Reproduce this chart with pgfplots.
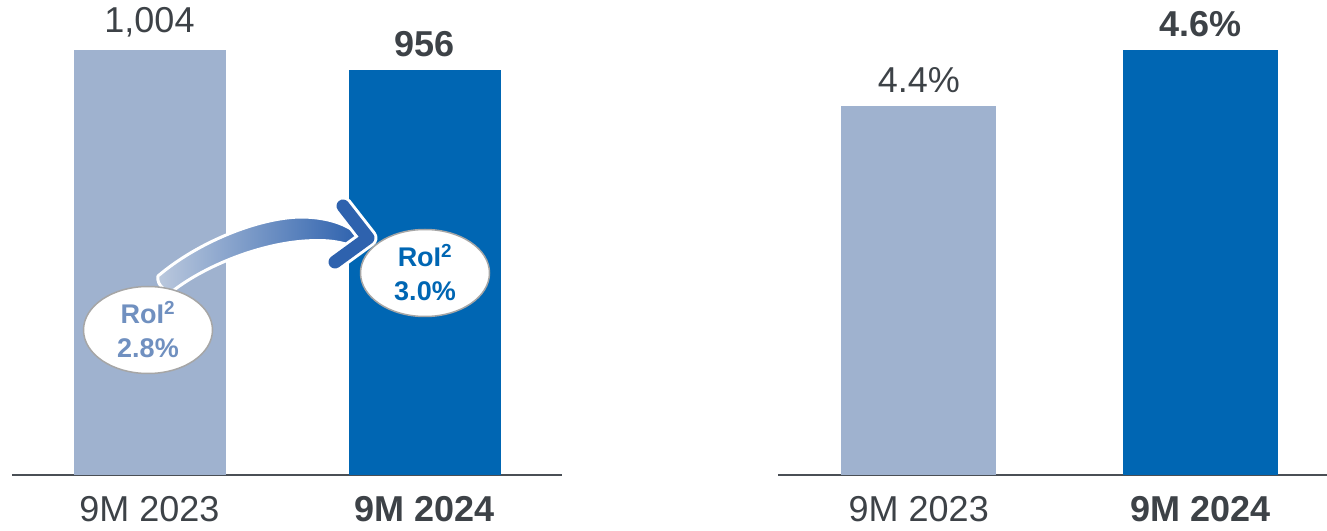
\documentclass[border=0pt]{standalone}
\usepackage{fontspec}
\setmainfont{Liberation Sans}
\usepackage{pgfplots}
\pgfplotsset{compat=1.18}
\usetikzlibrary{shapes.geometric}

\definecolor{lightbar}{HTML}{9FB2CF}
\definecolor{darkbar}{HTML}{0066B3}
\definecolor{txtgray}{HTML}{3D4247}
\definecolor{axgray}{HTML}{4A4F55}
\definecolor{roilight}{HTML}{7090C0}
\definecolor{arrowblue}{HTML}{2E62AE}

\pgfplotsset{
  kpi/.style={
    scale only axis,
    height=425pt,
    ybar, clip=false,
    hide y axis,
    axis x line*=bottom,
    x axis line style={draw=axgray, line width=2pt, -},
    xtick={0,1},
    xticklabels={9M 2023, \textbf{9M 2024}},
    major tick length=0pt,
    xticklabel style={font=\fontsize{36}{40}\selectfont, text=txtgray,
      inner sep=0pt, anchor=north, yshift=-21pt},
    point meta=explicit symbolic,
    nodes near coords,
    every node near coord/.append style={font=\fontsize{36}{40}\selectfont,
      text=txtgray, inner sep=0pt, anchor=south, yshift=13pt},
  },
}

\begin{document}
\begin{tikzpicture}[x=1pt,y=1pt]
\useasboundingbox (0,0) rectangle (1327,530);

% left chart: volume
\begin{axis}[kpi, at={(12pt,55pt)}, anchor=south west,
  width=550pt, xmin=-0.5, xmax=1.5, ymin=0, ymax=1004]
  \addplot[fill=lightbar, draw=none, bar width=152pt, bar shift=0pt]
    coordinates {(0,1004) [1,004]};
  \addplot[fill=darkbar, draw=none, bar width=152pt, bar shift=0pt,
    every node near coord/.append style={font=\fontsize{36}{40}\selectfont\bfseries}]
    coordinates {(1,956) [956]};
\end{axis}

% right chart: rate
\begin{axis}[kpi, at={(778pt,55pt)}, anchor=south west,
  width=549pt, xmin=-0.5, xmax=1.45, ymin=3.08, ymax=4.6]
  \addplot[fill=lightbar, draw=none, bar width=155pt, bar shift=0pt]
    coordinates {(0,4.4) [4.4\%]};
  \addplot[fill=darkbar, draw=none, bar width=155pt, bar shift=0pt,
    every node near coord/.append style={font=\fontsize{36}{40}\selectfont\bfseries}]
    coordinates {(1,4.6) [4.6\%]};
\end{axis}

% RoI annotation (image coordinates, y downwards)
\begin{scope}[yshift=530pt, x=1pt, y=-1pt]
  \shadedraw[left color=lightbar!70!white, right color=arrowblue,
    draw=white, line width=3pt, line join=round]
    (158,276) .. controls (198,242) and (258,218) .. (300,217)
    .. controls (325,217) and (345,223) .. (358,234)
    -- (352,246)
    .. controls (335,240) and (320,240) .. (305,241)
    .. controls (260,244) and (207,265) .. (174,290)
    .. controls (168,294) and (156,286) .. (158,276) -- cycle;
  \draw[white, line width=19pt, line cap=round, line join=round]
    (343,206) -- (368,238) -- (335,262);
  \draw[arrowblue, line width=13pt, line cap=round, line join=round]
    (343,206) -- (368,238) -- (335,262);
  \node[ellipse, draw=gray!70, line width=1.5pt, fill=white,
    minimum width=129pt, minimum height=87pt, inner sep=0pt, align=center,
    text=roilight, font=\fontsize{27}{34}\selectfont\bfseries]
    at (148,330) {RoI\textsuperscript{2}\\2.8\%};
  \node[ellipse, draw=gray!70, line width=1.5pt, fill=white,
    minimum width=129pt, minimum height=87pt, inner sep=0pt, align=center,
    text=darkbar, font=\fontsize{27}{34}\selectfont\bfseries]
    at (425,273) {RoI\textsuperscript{2}\\3.0\%};
\end{scope}
\end{tikzpicture}
\end{document}
